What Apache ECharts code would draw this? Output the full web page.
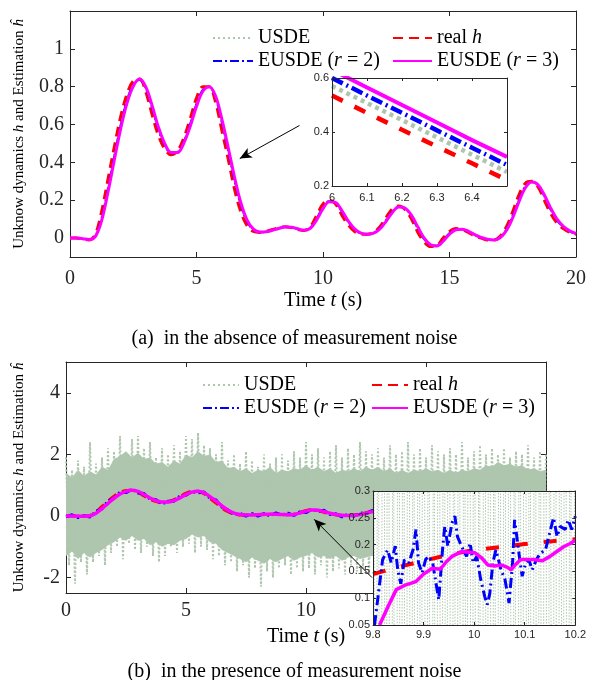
<!DOCTYPE html>
<html><head><meta charset="utf-8">
<script src="https://cdn.jsdelivr.net/npm/echarts@6/dist/echarts.min.js"></script>
<style>html,body{margin:0;padding:0;background:#fff}#c{width:589px;height:680px}</style>
</head><body><div id="c"></div>
<script>
// ---------------- DATA ----------------
// main curves, sampled every 0.25 s from 0 to 20 s
const MAIN_T0 = 0, MAIN_DT = 0.25;
const realH = [0,0,-0.005,-0.01,0.02,0.14,0.31,0.48,0.64,0.76,0.83,0.84,0.77,0.65,0.54,0.47,0.44,0.46,0.53,0.63,0.74,0.8,0.8,0.72,0.57,0.42,0.26,0.14,0.065,0.035,0.03,0.035,0.045,0.055,0.06,0.055,0.045,0.04,0.06,0.12,0.18,0.2,0.18,0.12,0.07,0.035,0.02,0.02,0.03,0.06,0.11,0.155,0.17,0.15,0.1,0.03,-0.02,-0.045,-0.04,0,0.035,0.05,0.045,0.03,0.01,0,-0.01,-0.01,0.01,0.06,0.14,0.23,0.29,0.3,0.27,0.2,0.13,0.08,0.05,0.03,0.02];
const estUsdeEusde2 = [0,0,-0.004,-0.009,0.012,0.106,0.262,0.432,0.595,0.726,0.81,0.837,0.79,0.684,0.571,0.49,0.448,0.454,0.51,0.602,0.709,0.783,0.8,0.742,0.612,0.462,0.305,0.174,0.086,0.043,0.031,0.034,0.042,0.052,0.059,0.056,0.048,0.041,0.054,0.103,0.163,0.194,0.186,0.137,0.084,0.045,0.024,0.02,0.027,0.052,0.096,0.142,0.166,0.156,0.114,0.05,-0.006,-0.038,-0.041,-0.011,0.025,0.046,0.046,0.034,0.016,0.003,-0.007,-0.01,0.004,0.046,0.118,0.205,0.273,0.297,0.278,0.22,0.15,0.094,0.058,0.036,0.023];
const estEusde3 = [0,0,-0.003,-0.008,0.008,0.092,0.242,0.412,0.576,0.712,0.802,0.84,0.798,0.698,0.584,0.498,0.452,0.452,0.502,0.59,0.696,0.776,0.8,0.752,0.63,0.48,0.324,0.188,0.095,0.047,0.032,0.033,0.041,0.051,0.058,0.057,0.049,0.042,0.052,0.096,0.156,0.192,0.188,0.144,0.09,0.049,0.026,0.02,0.026,0.048,0.09,0.137,0.164,0.158,0.12,0.058,0,-0.035,-0.042,-0.016,0.021,0.044,0.047,0.036,0.018,0.004,-0.006,-0.01,0.002,0.04,0.108,0.194,0.266,0.296,0.282,0.228,0.158,0.1,0.062,0.038,0.024];
// noisy EUSDE (r=2) estimate in panel (b)
const noisyEusde2 = [-0.03,0.04,-0.05,0.01,-0.03,0.15,0.23,0.49,0.575,0.77,0.76,0.87,0.75,0.73,0.55,0.53,0.39,0.48,0.48,0.65,0.67,0.8,0.75,0.78,0.58,0.52,0.285,0.2,0.04,0.08,0,0.08,0,0.08,0,0.1,0.03,0.09,0.02,0.14,0.11,0.22,0.15,0.19,0.05,0.07,-0.03,0.06,-0.01,0.1,0.07,0.18,0.11,0.19,0.08,0.09,-0.05,0,-0.08,0.03,-0.01,0.09,0.01,0.07,-0.02,0.05,-0.05,0.03,-0.03,0.09,0.08,0.25,0.23,0.34,0.25,0.26,0.1,0.13,0.02,0.08,-0.01];
// USDE with measurement noise, panel (b): limits of the dense band, every 0.25 s
const usdeBandUpper = [
1.4,1.25,1.5,1.3, 1.45,1.35,1.6,1.5, 1.85,1.95,2.1,1.9, 2.05,1.85,1.9,1.7,
1.75,1.6,1.8,1.7, 2.0,1.9,2.1,1.95, 2.0,1.75,1.8,1.55, 1.6,1.45,1.55,1.4,
1.5,1.45,1.6,1.4, 1.5,1.45,1.55,1.5, 1.65,1.5,1.6,1.45, 1.55,1.4,1.5,1.45,
1.55,1.45,1.6,1.5, 1.6,1.45,1.55,1.4, 1.5,1.4,1.5,1.45, 1.55,1.45,1.5,1.4,
1.5,1.4,1.5,1.45, 1.55,1.5,1.65,1.6, 1.75,1.65,1.7,1.6, 1.65,1.5,1.55,1.45, 1.5];
const usdeBandLower = [
-1.3,-1.15,-1.4,-1.2, -1.35,-1.2,-1.1,-0.95, -0.85,-0.7,-0.8,-0.65, -0.8,-0.75,-0.95,-0.85,
-1.0,-0.9,-0.95,-0.8, -0.75,-0.6,-0.7,-0.65, -0.85,-0.9,-1.1,-1.2, -1.3,-1.4,-1.5,-1.35,
-1.45,-1.55,-1.4,-1.5, -1.4,-1.3,-1.45,-1.35, -1.3,-1.2,-1.35,-1.3, -1.4,-1.3,-1.45,-1.35,
-1.3,-1.4,-1.35,-1.3, -1.35,-1.3,-1.4,-1.3, -1.4,-1.35,-1.3,-1.4, -1.3,-1.35,-1.4,-1.3,
-1.35,-1.3,-1.4,-1.35, -1.25,-1.2,-1.15,-1.2, -1.1,-1.15,-1.2,-1.25, -1.3,-1.35,-1.3,-1.35, -1.3];
// USDE noise spikes every 0.125 s
const SPIKE_DT = 0.125;
const usdeSpikes = [
1.9,-1.6,1.5,-2.2,1.8,-1.5,1.6,-1.9,
2.4,-1.5,1.7,-1.3,1.9,-1.6,2.2,-1.2,
2.1,-1.0,2.6,-1.4,2.0,-0.9,2.5,-1.1,
2.6,-1.2,2.2,-1.0,2.4,-1.3,1.9,-1.5,
2.2,-1.3,2.0,-1.0,2.3,-1.2,2.1,-1.0,
2.6,-0.9,2.5,-1.2,2.7,-1.0,2.3,-1.1,
2.2,-1.4,2.0,-1.3,2.4,-1.6,1.8,-1.5,
2.0,-1.8,1.7,-1.6,2.1,-2.0,1.8,-1.7,
1.6,-2.3,2.0,-1.8,1.7,-2.0,1.9,-1.7,
2.0,-1.6,1.8,-1.9,2.1,-1.7,1.9,-1.8,
2.4,-1.7,2.0,-1.9,2.2,-1.6,1.9,-2.0,
2.1,-1.8,2.3,-1.7,1.9,-1.9,2.2,-1.6,
2.0,-1.8,2.4,-1.7,2.1,-1.9,2.0,-1.8,
2.2,-1.7,1.9,-1.8,2.3,-1.6,2.0,-1.9,
2.1,-1.8,2.4,-1.7,2.0,-1.9,2.2,-1.6,
1.9,-1.8,2.3,-1.7,2.1,-1.9,2.0,-1.8,
2.2,-1.7,2.0,-1.8,2.4,-1.6,1.9,-1.9,
2.1,-1.8,2.3,-1.7,2.0,-1.9,2.2,-1.6,
2.0,-1.8,2.2,-1.7,1.9,-1.9,2.1,-1.8,
2.0,-1.7,2.3,-1.8,1.9,-1.6,2.1,-1.9,
2.0];
// zoom inset of panel (a): 6 to 6.5 s
const insetAT = [6, 6.1, 6.2, 6.3, 6.4, 6.5];
const insetAReal = [0.535, 0.471, 0.408, 0.346, 0.284, 0.222];
const insetAUsde = [0.57, 0.507, 0.444, 0.38, 0.316, 0.252];
const insetAEusde2 = [0.6, 0.535, 0.471, 0.406, 0.342, 0.278];
const insetAEusde3 = [0.63, 0.565, 0.5, 0.435, 0.37, 0.308];
// zoom inset of panel (b): 9.8 to 10.2 s
const insetBRealT = [9.8, 9.85, 9.9, 9.95, 10.0, 10.05, 10.1, 10.15, 10.2];
const insetBReal = [0.145, 0.158, 0.17, 0.181, 0.19, 0.195, 0.201, 0.206, 0.21];
const insetBEusde2T = [9.803,9.81,9.819,9.829,9.836,9.844,9.849,9.855,9.862,9.871,9.879,9.885,9.89,9.897,9.904,9.91,9.918,9.93,9.938,9.942,9.948,9.956,9.962,9.967,9.975,9.985,9.992,9.998,10.005,10.013,10.021,10.026,10.031,10.037,10.043,10.048,10.053,10.061,10.069,10.076,10.08,10.086,10.091,10.095,10.102,10.108,10.115,10.123,10.131,10.141,10.151,10.157,10.164,10.17,10.18,10.186,10.193,10.2];
const insetBEusde2 = [0.05,0.103,0.172,0.19,0.166,0.197,0.152,0.127,0.172,0.166,0.19,0.228,0.166,0.147,0.172,0.178,0.166,0.097,0.197,0.234,0.197,0.24,0.253,0.215,0.197,0.178,0.203,0.166,0.178,0.135,0.103,0.088,0.109,0.166,0.19,0.172,0.153,0.135,0.091,0.166,0.246,0.203,0.166,0.141,0.166,0.172,0.153,0.172,0.184,0.19,0.228,0.25,0.215,0.234,0.228,0.246,0.228,0.253];
const insetBEusde3T = [9.813,9.83,9.846,9.865,9.885,9.9,9.917,9.933,9.945,9.956,9.975,10.001,10.015,10.027,10.04,10.053,10.065,10.073,10.082,10.092,10.105,10.118,10.135,10.15,10.165,10.177,10.19,10.2];
const insetBEusde3 = [0.05,0.085,0.116,0.125,0.131,0.145,0.156,0.154,0.168,0.178,0.187,0.185,0.175,0.162,0.16,0.162,0.158,0.153,0.163,0.172,0.172,0.172,0.17,0.178,0.188,0.196,0.202,0.208];
const INSET_NOISE_T0 = 9.8, INSET_NOISE_DT = 0.005;
const insetBUsde = [1.2,-1.0,0.9,-1.3,1.5,-0.8,1.1,-1.2,0.8,-1.5,1.3,-0.9,1.0,-1.1,1.4,-1.0,0.9,-1.3,1.2,-0.8,1.5,-1.2,1.0,-1.4,0.8,-1.0,1.3,-1.1,1.1,-0.9,1.4,-1.3,0.9,-1.0,1.2,-1.4,1.0,-0.8,1.5,-1.1,1.1,-1.2,0.8,-1.3,1.3,-0.9,1.2,-1.0,0.9,-1.5,1.4,-1.1,1.0,-0.9,1.3,-1.2,0.8,-1.4,1.1,-1.0,1.5,-0.8,0.9,-1.3,1.2,-1.1,1.0,-1.2,1.4,-0.9,0.8,-1.0,1.3,-1.4,1.1,-0.8,1.2,-1.1,0.9,-1.3,1.0];
// tick labels
const topYTicks = [0, 0.2, 0.4, 0.6, 0.8, 1];
const botYTicks = [-2, 0, 2, 4];
// arrows (data coordinates: tail -> head)
const arrowA = [[9.07, 0.595], [6.71, 0.42]];
const arrowB = [[12.75, -2.0], [10.34, -0.107]];

// ---------------- HELPERS ----------------
const sampleTimes = (t0, dt, n) => Array.from({length: n}, (_, i) => +(t0 + i * dt).toFixed(4));
const pairs = (ts, vs) => vs.map((v, i) => [ts[i], v]);
const tMain = sampleTimes(MAIN_T0, MAIN_DT, realH.length);

const AX = '#262626';
const SERIF = 'Liberation Serif';
const SANS = 'Liberation Sans';
const GREEN = '#adc6ad';
const RED = '#ff0000', BLUE = '#0000ff', MAG = '#ff00ff';

const rich = {
  n: {fontFamily: SERIF, fontSize: 20, color: '#000', lineHeight: 20},
  i: {fontFamily: SERIF, fontSize: 20, fontStyle: 'italic', color: '#000', lineHeight: 20},
  s: {fontFamily: SERIF, fontSize: 15, color: '#000', lineHeight: 15},
  si: {fontFamily: SERIF, fontSize: 15, fontStyle: 'italic', color: '#000', lineHeight: 15}
};

function axis(gridIndex, position, min, max, o) {
  o = o || {};
  const a = {
    type: 'value', gridIndex, position, min, max, z: o.z || 0,
    axisLine: {show: true, onZero: false, lineStyle: {color: AX, width: 1}},
    axisTick: {show: true, inside: true, length: o.tickLen || 5, lineStyle: {color: AX, width: 1}},
    splitLine: {show: false},
    axisLabel: {show: false}
  };
  if (o.interval != null) a.interval = o.interval;
  if (o.custom) a.axisTick.customValues = o.custom;
  if (o.labels) {
    a.axisLabel = {show: true, margin: o.margin, fontFamily: o.sans ? SANS : SERIF,
      fontSize: o.fontSize || 20, color: AX};
    if (o.custom) a.axisLabel.customValues = o.custom;
    if (o.hideMax) a.axisLabel.showMaxLabel = false;
  }
  if (o.name) {
    a.name = o.name; a.nameLocation = 'middle'; a.nameGap = o.nameGap;
    a.nameTextStyle = {rich: rich, fontFamily: SERIF, fontSize: 20, color: '#000'};
  }
  return a;
}

function line(name, xi, data, ls, z, extra) {
  return Object.assign({
    type: 'line', name, xAxisIndex: xi, yAxisIndex: xi, data,
    symbol: 'none', showSymbol: false, z: z, clip: true,
    itemStyle: {color: ls.color},
    lineStyle: {color: ls.color, width: ls.width, type: ls.type || 'solid', cap: 'butt'},
    emphasis: {disabled: true}, animation: false
  }, extra || {});
}

function arrow(a) {
  return {silent: true, symbol: ['none', 'arrow'], symbolSize: [8, 12], animation: false,
    label: {show: false}, lineStyle: {color: '#000', width: 1, type: 'solid'},
    itemStyle: {color: '#000'},
    emphasis: {disabled: true},
    data: [[{coord: a[0]}, {coord: a[1]}]]};
}

function legendFmt(name) {
  if (name === 'real h') return '{n|real }{i|h}';
  const m = name.match(/^EUSDE \(r = (\d)\)$/);
  if (m) return '{n|EUSDE (}{i|r}{n| = ' + m[1] + ')}';
  return '{n|' + name + '}';
}
function legend(left, top, w, names) {
  return {orient: 'vertical', left, top, itemWidth: w, itemHeight: 12, itemGap: 3,
    selectedMode: false, data: names, formatter: legendFmt,
    itemStyle: {opacity: 0, borderWidth: 0},
    textStyle: {rich: rich, fontFamily: SERIF, fontSize: 20}, padding: 0};
}

const chart = echarts.init(document.getElementById('c'), null, {renderer: 'canvas'});
const nameT = '{n|Time }{i|t}{n| (s)}';
const nameY = '{s|Unknow dynamics }{si|h}{s| and Estimation }{si|\u0125}';

const option = {
  animation: false,
  backgroundColor: '#fff',
  title: [
    {text: '(a)  in the absence of measurement noise', left: 'center', top: 329, padding: 0,
     textStyle: {fontFamily: SERIF, fontSize: 20, fontWeight: 'normal', color: '#000'}},
    {text: '(b)  in the presence of measurement noise', left: 'center', top: 662, padding: 0,
     textStyle: {fontFamily: SERIF, fontSize: 20, fontWeight: 'normal', color: '#000'}}
  ],
  legend: [
    legend(212, 28, 40, ['USDE', 'EUSDE (r = 2)']),
    legend(392, 28, 39, ['real h', 'EUSDE (r = 3)']),
    legend(202, 375, 36, ['USDE', 'EUSDE (r = 2)']),
    legend(371, 375, 36, ['real h', 'EUSDE (r = 3)'])
  ],
  grid: [
    {left: 70, top: 11, width: 508, height: 246},
    {left: 332, top: 78, width: 175, height: 108, show: true, backgroundColor: '#fff', borderWidth: 0, z: 10},
    {left: 66, top: 362, width: 480, height: 231},
    {left: 373, top: 491, width: 206, height: 134, show: true, backgroundColor: '#fff', borderWidth: 0, z: 10}
  ],
  xAxis: [
    axis(0, 'bottom', 0, 20, {interval: 5, labels: true, margin: 12, name: nameT, nameGap: 34}),
    axis(0, 'top', 0, 20, {interval: 5}),
    axis(1, 'bottom', 6, 6.5, {interval: 0.1, labels: true, sans: true, fontSize: 11, margin: 6, hideMax: true, tickLen: 3, z: 12}),
    axis(1, 'top', 6, 6.5, {interval: 0.1, tickLen: 3, z: 12}),
    axis(2, 'bottom', 0, 20, {interval: 5, labels: true, margin: 8, name: nameT, nameGap: 34}),
    axis(2, 'top', 0, 20, {interval: 5}),
    axis(3, 'bottom', 9.8, 10.2, {interval: 0.1, labels: true, sans: true, fontSize: 11, margin: 4, tickLen: 3, z: 12}),
    axis(3, 'top', 9.8, 10.2, {interval: 0.1, tickLen: 3, z: 12})
  ],
  yAxis: [
    Object.assign(axis(0, 'left', -0.1, 1.2, {custom: topYTicks, labels: true, margin: 6, name: nameY, nameGap: 43}), {nameTextStyle: {rich: rich}}),
    axis(0, 'right', -0.1, 1.2, {custom: topYTicks}),
    axis(1, 'left', 0.2, 0.6, {interval: 0.2, labels: true, sans: true, fontSize: 11, margin: 3, tickLen: 3, z: 12}),
    axis(1, 'right', 0.2, 0.6, {interval: 0.2, tickLen: 3, z: 12}),
    Object.assign(axis(2, 'left', -2.5, 5, {custom: botYTicks, labels: true, margin: 6, name: nameY, nameGap: 39}), {nameTextStyle: {rich: rich}}),
    axis(2, 'right', -2.5, 5, {custom: botYTicks}),
    axis(3, 'left', 0.05, 0.3, {interval: 0.05, labels: true, sans: true, fontSize: 11, margin: 3, tickLen: 3, z: 12}),
    axis(3, 'right', 0.05, 0.3, {interval: 0.05, tickLen: 3, z: 12})
  ],
  series: []
};
const s = line;

// panel (a) main
option.series.push(
  s('USDE', 0, pairs(tMain, estUsdeEusde2), {color: GREEN, width: 2.5, type: [2, 3]}, 2, {smooth: 0.35}),
  s('real h', 0, pairs(tMain, realH), {color: RED, width: 3, type: [10, 6]}, 3, {smooth: 0.35}),
  s('EUSDE (r = 2)', 0, pairs(tMain, estUsdeEusde2), {color: BLUE, width: 2, type: [9, 3, 2, 3]}, 4, {smooth: 0.35}),
  s('EUSDE (r = 3)', 0, pairs(tMain, estEusde3), {color: MAG, width: 3}, 5, {smooth: 0.35, markLine: arrow(arrowA)})
);
// panel (a) inset
option.series.push(
  s('a-usde', 2, pairs(insetAT, insetAUsde), {color: GREEN, width: 4.5, type: [4, 4]}, 11),
  s('a-real', 2, pairs(insetAT, insetAReal), {color: RED, width: 4.5, type: [12, 13]}, 11),
  s('a-e2', 2, pairs(insetAT, insetAEusde2), {color: BLUE, width: 4.5, type: [12, 4, 2, 4]}, 11),
  s('a-e3', 2, pairs(insetAT, insetAEusde3), {color: MAG, width: 4}, 11)
);
// panel (b) main
const tBand = sampleTimes(MAIN_T0, MAIN_DT, usdeBandUpper.length);
const tSpike = sampleTimes(MAIN_T0, SPIKE_DT, usdeSpikes.length);
option.series.push(
  s('b-band-up', 4, pairs(tBand, usdeBandUpper), {color: GREEN, width: 0}, 1, {areaStyle: {color: GREEN, opacity: 1}, lineStyle: {width: 0}}),
  s('b-band-lo', 4, pairs(tBand, usdeBandLower), {color: GREEN, width: 0}, 1, {areaStyle: {color: GREEN, opacity: 1}, lineStyle: {width: 0}}),
  s('b-spikes', 4, pairs(tSpike, usdeSpikes), {color: GREEN, width: 2, type: [2, 2]}, 1),
  s('real h', 4, pairs(tMain, realH), {color: RED, width: 3, type: [10, 6]}, 3, {smooth: 0.35}),
  s('EUSDE (r = 2)', 4, pairs(tMain, noisyEusde2), {color: BLUE, width: 3, type: [9, 3, 2, 3]}, 4),
  s('EUSDE (r = 3)', 4, pairs(tMain, estEusde3), {color: MAG, width: 3.5}, 5, {smooth: 0.35, markLine: arrow(arrowB)})
);
// panel (b) inset
const tInsetNoise = sampleTimes(INSET_NOISE_T0, INSET_NOISE_DT, insetBUsde.length);
option.series.push(
  s('b-i-usde', 6, pairs(tInsetNoise, insetBUsde), {color: GREEN, width: 1, type: [1.5, 1.5]}, 11),
  s('b-i-real', 6, pairs(insetBRealT, insetBReal), {color: RED, width: 4, type: [13, 16]}, 11),
  s('b-i-e2', 6, pairs(insetBEusde2T, insetBEusde2), {color: BLUE, width: 3, type: [10, 4, 2, 4]}, 11),
  s('b-i-e3', 6, pairs(insetBEusde3T, insetBEusde3), {color: MAG, width: 3.5}, 11)
);
chart.setOption(option);
</script></body></html>
